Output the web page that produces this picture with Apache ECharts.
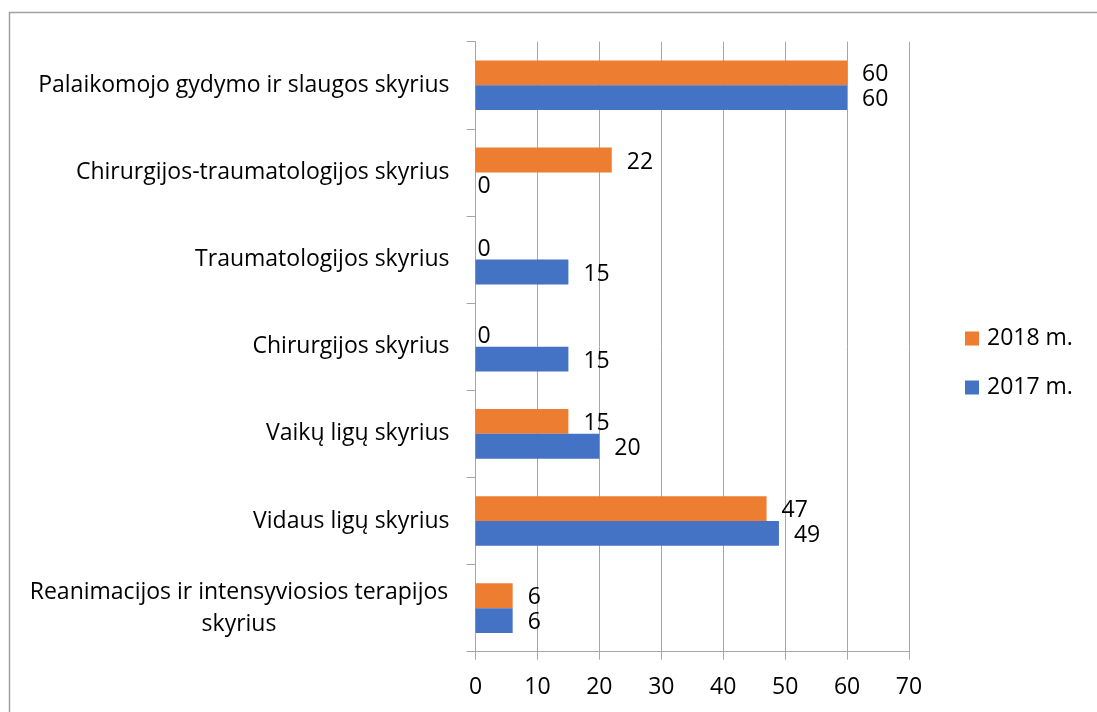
<!DOCTYPE html>
<html>
<head>
<meta charset="utf-8">
<script src="https://cdn.jsdelivr.net/npm/echarts@6/dist/echarts.min.js"></script>
<style>
  html, body { margin: 0; padding: 0; background: #fff; }
  #chart { width: 1097px; height: 712px; }
</style>
</head>
<body>
<div id="chart"></div>
<script>
// skyriai, nuo apačios į viršų
var categories = [
  "Reanimacijos ir intensyviosios terapijos\nskyrius",
  "Vidaus ligų skyrius",
  "Vaikų ligų skyrius",
  "Chirurgijos skyrius",
  "Traumatologijos skyrius",
  "Chirurgijos-traumatologijos skyrius",
  "Palaikomojo gydymo ir slaugos skyrius"
];
var values2017 = [6, 49, 20, 15, 15, 0, 60];
var values2018 = [6, 47, 15, 0, 0, 22, 60];
var xTicks = [0, 10, 20, 30, 40, 50, 60, 70];

var FONT = "Open Sans";
var FS = 23;
var gridGray = "#a6a6a6";

function barData(vals) {
  // zero labels hug the axis, the rest sit a bit off the bar end
  return vals.map(function (v) {
    return { value: v, label: { distance: v === 0 ? 2 : 15 } };
  });
}

var chart = echarts.init(document.getElementById("chart"));
chart.setOption({
  animation: false,
  textStyle: { fontFamily: FONT },
  graphic: [{
    type: "rect",
    shape: { x: 9.5, y: 12.5, width: 1200, height: 800 },
    style: { fill: null, stroke: "#a0a0a0", lineWidth: 1.5 },
    silent: true
  }],
  grid: {
    left: 475.5,
    right: 188,
    top: 41.7,
    bottom: 60.3,
    containLabel: false,
    outerBoundsMode: "none"
  },
  legend: {
    orient: "vertical",
    left: 965,
    top: 327,
    padding: 0,
    itemWidth: 14,
    itemHeight: 14,
    itemGap: 26,
    icon: "rect",
    data: ["2018 m.", "2017 m."],
    textStyle: { fontFamily: FONT, fontSize: FS, color: "#000", padding: [0, 0, 0, 3] }
  },
  xAxis: {
    type: "value",
    min: xTicks[0],
    max: xTicks[xTicks.length - 1],
    interval: 10,
    axisLine: { show: true, lineStyle: { color: gridGray, width: 1 } },
    axisTick: { show: true, length: 8, lineStyle: { color: gridGray } },
    splitLine: { show: true, lineStyle: { color: gridGray, width: 1 } },
    axisLabel: { fontFamily: FONT, fontSize: FS, color: "#000", margin: 24 }
  },
  yAxis: {
    type: "category",
    data: categories,
    axisLine: { show: true, lineStyle: { color: gridGray, width: 1 } },
    axisTick: { show: true, length: 9, lineStyle: { color: gridGray } },
    axisLabel: {
      fontFamily: FONT,
      fontSize: FS,
      color: "#000",
      margin: 26,
      formatter: function (v) {
        if (v.indexOf("\n") < 0) return v;
        return v.split("\n").map(function (s) { return "{c|" + s + "}"; }).join("\n");
      },
      rich: {
        c: { fontFamily: FONT, fontSize: FS, color: "#000", width: 421, align: "center", lineHeight: 32 }
      }
    }
  },
  series: [
    {
      name: "2018 m.",
      type: "bar",
      data: barData(values2018),
      itemStyle: { color: "#ed7d31" },
      barGap: "0%",
      barCategoryGap: "43%",
      label: { show: true, position: "right", offset: [0, 2], fontFamily: FONT, fontSize: FS, color: "#000" }
    },
    {
      name: "2017 m.",
      type: "bar",
      data: barData(values2017),
      itemStyle: { color: "#4472c4" },
      barGap: "0%",
      barCategoryGap: "43%",
      label: { show: true, position: "right", offset: [0, 2], fontFamily: FONT, fontSize: FS, color: "#000" }
    }
  ]
});
</script>
</body>
</html>
